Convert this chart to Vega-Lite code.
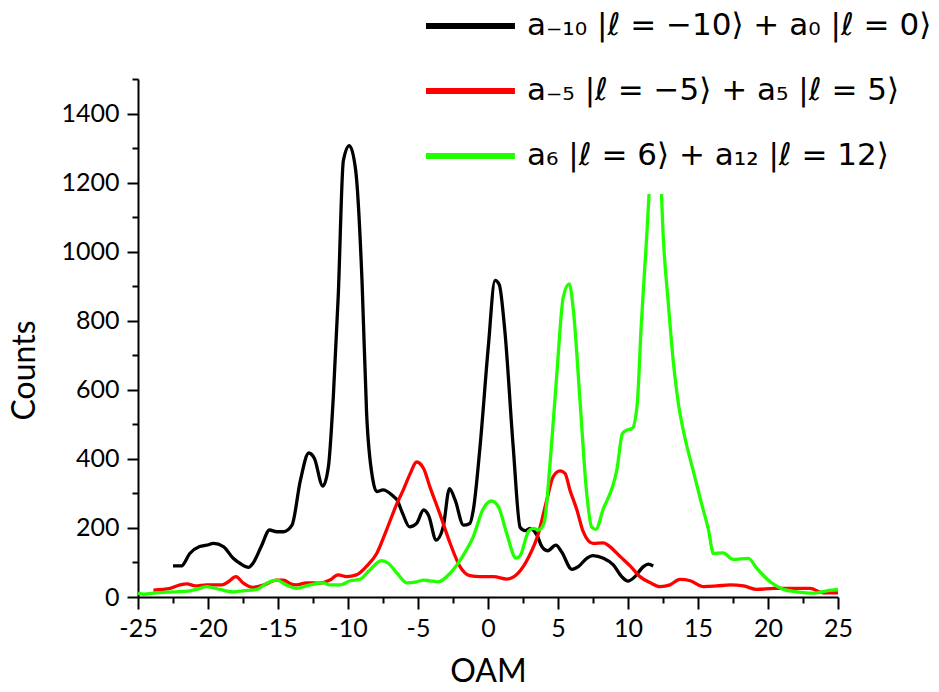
{
  "$schema": "https://vega.github.io/schema/vega-lite/v6.json",
  "autosize": {"type": "none"},
  "padding": {"left": 138, "top": 79, "right": 101, "bottom": 95},
  "width": 700,
  "height": 518,
  "background": "white",
  "config": {"view": {"stroke": null}, "font": "Lato"},
  "data": {"values": [
    {"s": "A", "x": -22.5, "y": 90}, {"s": "A", "x": -21.9, "y": 90}, {"s": "A", "x": -21.3, "y": 126}, {"s": "A", "x": -20.6, "y": 146},
    {"s": "A", "x": -20.1, "y": 150}, {"s": "A", "x": -19.6, "y": 155}, {"s": "A", "x": -18.9, "y": 146}, {"s": "A", "x": -18.2, "y": 112},
    {"s": "A", "x": -17.7, "y": 97}, {"s": "A", "x": -17.1, "y": 86}, {"s": "A", "x": -16.8, "y": 97}, {"s": "A", "x": -16.2, "y": 146},
    {"s": "A", "x": -15.6, "y": 194}, {"s": "A", "x": -15.1, "y": 189}, {"s": "A", "x": -14.6, "y": 189}, {"s": "A", "x": -14.0, "y": 208},
    {"s": "A", "x": -13.4, "y": 338}, {"s": "A", "x": -12.8, "y": 417}, {"s": "A", "x": -12.4, "y": 401}, {"s": "A", "x": -11.8, "y": 321},
    {"s": "A", "x": -11.4, "y": 377}, {"s": "A", "x": -11.05, "y": 579}, {"s": "A", "x": -10.7, "y": 869}, {"s": "A", "x": -10.33, "y": 1264},
    {"s": "A", "x": -9.9, "y": 1307}, {"s": "A", "x": -9.45, "y": 1235}, {"s": "A", "x": -9.0, "y": 917}, {"s": "A", "x": -8.67, "y": 531},
    {"s": "A", "x": -8.24, "y": 343}, {"s": "A", "x": -7.95, "y": 305}, {"s": "A", "x": -7.5, "y": 310}, {"s": "A", "x": -6.8, "y": 293},
    {"s": "A", "x": -6.5, "y": 281}, {"s": "A", "x": -6.1, "y": 242}, {"s": "A", "x": -5.6, "y": 203}, {"s": "A", "x": -5.1, "y": 213},
    {"s": "A", "x": -4.6, "y": 252}, {"s": "A", "x": -4.25, "y": 237}, {"s": "A", "x": -3.7, "y": 165}, {"s": "A", "x": -3.2, "y": 203},
    {"s": "A", "x": -2.75, "y": 314}, {"s": "A", "x": -2.35, "y": 281}, {"s": "A", "x": -1.75, "y": 208}, {"s": "A", "x": -1.3, "y": 213},
    {"s": "A", "x": -1.05, "y": 252}, {"s": "A", "x": -0.57, "y": 435}, {"s": "A", "x": 0.02, "y": 724}, {"s": "A", "x": 0.5, "y": 917},
    {"s": "A", "x": 0.8, "y": 905}, {"s": "A", "x": 1.2, "y": 772}, {"s": "A", "x": 1.8, "y": 435}, {"s": "A", "x": 2.3, "y": 201},
    {"s": "A", "x": 2.65, "y": 192}, {"s": "A", "x": 3.0, "y": 199}, {"s": "A", "x": 3.5, "y": 179}, {"s": "A", "x": 3.85, "y": 146},
    {"s": "A", "x": 4.25, "y": 134}, {"s": "A", "x": 4.85, "y": 150}, {"s": "A", "x": 5.25, "y": 131}, {"s": "A", "x": 6.0, "y": 80},
    {"s": "A", "x": 6.45, "y": 88}, {"s": "A", "x": 7.05, "y": 112}, {"s": "A", "x": 7.5, "y": 120}, {"s": "A", "x": 8.25, "y": 112},
    {"s": "A", "x": 8.95, "y": 93}, {"s": "A", "x": 9.55, "y": 59}, {"s": "A", "x": 10.0, "y": 46}, {"s": "A", "x": 10.5, "y": 59},
    {"s": "A", "x": 11.1, "y": 88}, {"s": "A", "x": 11.45, "y": 95}, {"s": "A", "x": 11.8, "y": 90},

    {"s": "B", "x": -23.9, "y": 20}, {"s": "B", "x": -22.7, "y": 25}, {"s": "B", "x": -22.0, "y": 35}, {"s": "B", "x": -21.5, "y": 38},
    {"s": "B", "x": -20.9, "y": 32}, {"s": "B", "x": -20.1, "y": 35}, {"s": "B", "x": -19.0, "y": 35}, {"s": "B", "x": -18.55, "y": 44},
    {"s": "B", "x": -18.0, "y": 59}, {"s": "B", "x": -17.5, "y": 41}, {"s": "B", "x": -16.8, "y": 28}, {"s": "B", "x": -16.0, "y": 35},
    {"s": "B", "x": -15.1, "y": 49}, {"s": "B", "x": -14.6, "y": 49}, {"s": "B", "x": -14.1, "y": 38}, {"s": "B", "x": -13.7, "y": 35},
    {"s": "B", "x": -12.95, "y": 41}, {"s": "B", "x": -12.0, "y": 40}, {"s": "B", "x": -11.3, "y": 49}, {"s": "B", "x": -10.7, "y": 64},
    {"s": "B", "x": -10.1, "y": 59}, {"s": "B", "x": -9.4, "y": 64}, {"s": "B", "x": -8.7, "y": 88}, {"s": "B", "x": -7.95, "y": 126},
    {"s": "B", "x": -7.25, "y": 194}, {"s": "B", "x": -6.5, "y": 271}, {"s": "B", "x": -6.05, "y": 310}, {"s": "B", "x": -5.55, "y": 358},
    {"s": "B", "x": -5.1, "y": 391}, {"s": "B", "x": -4.6, "y": 372}, {"s": "B", "x": -4.15, "y": 319}, {"s": "B", "x": -3.45, "y": 242},
    {"s": "B", "x": -2.7, "y": 155}, {"s": "B", "x": -2.0, "y": 88}, {"s": "B", "x": -1.3, "y": 62}, {"s": "B", "x": -0.55, "y": 59},
    {"s": "B", "x": 0.4, "y": 59}, {"s": "B", "x": 1.35, "y": 52}, {"s": "B", "x": 2.15, "y": 69}, {"s": "B", "x": 2.9, "y": 115},
    {"s": "B", "x": 3.6, "y": 184}, {"s": "B", "x": 4.2, "y": 281}, {"s": "B", "x": 4.65, "y": 348}, {"s": "B", "x": 5.15, "y": 365},
    {"s": "B", "x": 5.5, "y": 358}, {"s": "B", "x": 5.85, "y": 310}, {"s": "B", "x": 6.35, "y": 252}, {"s": "B", "x": 6.8, "y": 189},
    {"s": "B", "x": 7.5, "y": 155}, {"s": "B", "x": 8.25, "y": 157}, {"s": "B", "x": 8.7, "y": 146}, {"s": "B", "x": 9.45, "y": 117},
    {"s": "B", "x": 10.15, "y": 90}, {"s": "B", "x": 10.85, "y": 59}, {"s": "B", "x": 11.6, "y": 41}, {"s": "B", "x": 12.3, "y": 30},
    {"s": "B", "x": 13.0, "y": 35}, {"s": "B", "x": 13.7, "y": 51}, {"s": "B", "x": 14.45, "y": 47}, {"s": "B", "x": 15.4, "y": 30},
    {"s": "B", "x": 16.35, "y": 32}, {"s": "B", "x": 17.3, "y": 35}, {"s": "B", "x": 18.25, "y": 32}, {"s": "B", "x": 19.2, "y": 22},
    {"s": "B", "x": 20.4, "y": 25}, {"s": "B", "x": 21.6, "y": 25}, {"s": "B", "x": 23.0, "y": 25}, {"s": "B", "x": 23.95, "y": 12},
    {"s": "B", "x": 25.0, "y": 12},

    {"s": "C", "x": -25.0, "y": 11}, {"s": "C", "x": -24.6, "y": 8}, {"s": "C", "x": -23.7, "y": 12}, {"s": "C", "x": -22.5, "y": 15},
    {"s": "C", "x": -21.3, "y": 18}, {"s": "C", "x": -20.8, "y": 22}, {"s": "C", "x": -20.1, "y": 30}, {"s": "C", "x": -19.15, "y": 22},
    {"s": "C", "x": -18.2, "y": 15}, {"s": "C", "x": -17.5, "y": 18}, {"s": "C", "x": -16.5, "y": 22}, {"s": "C", "x": -15.8, "y": 40},
    {"s": "C", "x": -15.1, "y": 49}, {"s": "C", "x": -14.4, "y": 35}, {"s": "C", "x": -13.7, "y": 25}, {"s": "C", "x": -12.7, "y": 35},
    {"s": "C", "x": -11.75, "y": 41}, {"s": "C", "x": -11.3, "y": 35}, {"s": "C", "x": -10.55, "y": 35}, {"s": "C", "x": -9.85, "y": 47},
    {"s": "C", "x": -9.15, "y": 51}, {"s": "C", "x": -8.45, "y": 78}, {"s": "C", "x": -7.6, "y": 105}, {"s": "C", "x": -7.1, "y": 97},
    {"s": "C", "x": -6.5, "y": 69}, {"s": "C", "x": -5.8, "y": 41}, {"s": "C", "x": -5.1, "y": 44}, {"s": "C", "x": -4.6, "y": 49},
    {"s": "C", "x": -4.15, "y": 47}, {"s": "C", "x": -3.55, "y": 44}, {"s": "C", "x": -2.7, "y": 69}, {"s": "C", "x": -1.75, "y": 122},
    {"s": "C", "x": -1.05, "y": 175}, {"s": "C", "x": -0.35, "y": 255}, {"s": "C", "x": 0.26, "y": 278}, {"s": "C", "x": 0.75, "y": 261},
    {"s": "C", "x": 1.33, "y": 185}, {"s": "C", "x": 2.0, "y": 113}, {"s": "C", "x": 2.3, "y": 120}, {"s": "C", "x": 2.9, "y": 191},
    {"s": "C", "x": 3.25, "y": 199}, {"s": "C", "x": 3.6, "y": 194}, {"s": "C", "x": 4.0, "y": 213}, {"s": "C", "x": 4.45, "y": 396},
    {"s": "C", "x": 4.9, "y": 637}, {"s": "C", "x": 5.38, "y": 869}, {"s": "C", "x": 5.8, "y": 907}, {"s": "C", "x": 6.1, "y": 830},
    {"s": "C", "x": 6.57, "y": 570}, {"s": "C", "x": 7.05, "y": 300}, {"s": "C", "x": 7.4, "y": 203}, {"s": "C", "x": 7.7, "y": 196},
    {"s": "C", "x": 8.25, "y": 257}, {"s": "C", "x": 8.85, "y": 314}, {"s": "C", "x": 9.2, "y": 367}, {"s": "C", "x": 9.6, "y": 473},
    {"s": "C", "x": 9.9, "y": 483}, {"s": "C", "x": 10.3, "y": 488}, {"s": "C", "x": 10.65, "y": 555}, {"s": "C", "x": 10.95, "y": 790},
    {"s": "C", "x": 11.33, "y": 1040}, {"s": "C", "x": 11.7, "y": 1290}, {"s": "C", "x": 12.0, "y": 1360}, {"s": "C", "x": 12.3, "y": 1250},
    {"s": "C", "x": 12.52, "y": 1042}, {"s": "C", "x": 12.88, "y": 850}, {"s": "C", "x": 13.25, "y": 676}, {"s": "C", "x": 13.6, "y": 560},
    {"s": "C", "x": 14.05, "y": 464}, {"s": "C", "x": 14.65, "y": 367}, {"s": "C", "x": 15.25, "y": 271}, {"s": "C", "x": 15.75, "y": 194},
    {"s": "C", "x": 16.1, "y": 126}, {"s": "C", "x": 16.8, "y": 128}, {"s": "C", "x": 17.5, "y": 109}, {"s": "C", "x": 18.6, "y": 112},
    {"s": "C", "x": 19.2, "y": 83}, {"s": "C", "x": 20.15, "y": 44}, {"s": "C", "x": 21.1, "y": 22}, {"s": "C", "x": 22.05, "y": 15},
    {"s": "C", "x": 23.25, "y": 11}, {"s": "C", "x": 24.2, "y": 18}, {"s": "C", "x": 25.0, "y": 22}
  ]},
  "transform": [
    {"lookup": "s", "from": {"data": {"values": [
      {"s": "A", "label": "a₋₁₀ |ℓ = −10⟩ + a₀ |ℓ = 0⟩"},
      {"s": "B", "label": "a₋₅ |ℓ = −5⟩ + a₅ |ℓ = 5⟩"},
      {"s": "C", "label": "a₆ |ℓ = 6⟩ + a₁₂ |ℓ = 12⟩"}
    ]}, "key": "s", "fields": ["label"]}}
  ],
  "mark": {"type": "line", "strokeWidth": 3.3, "interpolate": "monotone"},
  "encoding": {
    "x": {
      "field": "x", "type": "quantitative",
      "scale": {"domain": [-25, 25], "nice": false, "zero": false},
      "axis": {
        "title": "OAM",
        "values": [-25, -22.5, -20, -17.5, -15, -12.5, -10, -7.5, -5, -2.5, 0, 2.5, 5, 7.5, 10, 12.5, 15, 17.5, 20, 22.5, 25],
        "labelExpr": "datum.value % 5 === 0 ? toString(datum.value) : ''",
        "tickSize": {"condition": {"test": "datum.value % 5 === 0", "value": 12}, "value": 6},
        "labelPadding": 7,
        "labelFont": "Lato", "labelFontSize": 25, "labelColor": "black",
        "labelFlush": false, "labelOverlap": false,
        "domainColor": "black", "domainWidth": 2, "tickColor": "black", "tickWidth": 2,
        "grid": false,
        "titleFont": "Lato", "titleFontSize": 32, "titleFontWeight": "normal", "titleColor": "black",
        "titleBaseline": "middle", "titleY": 74
      }
    },
    "y": {
      "field": "y", "type": "quantitative",
      "scale": {"domain": [0, 1500], "nice": false},
      "axis": {
        "title": "Counts",
        "values": [0, 100, 200, 300, 400, 500, 600, 700, 800, 900, 1000, 1100, 1200, 1300, 1400, 1500],
        "labelExpr": "datum.value % 200 === 0 ? toString(datum.value) : ''",
        "tickSize": {"condition": {"test": "datum.value % 200 === 0", "value": 11}, "value": 6},
        "labelPadding": 8,
        "labelFont": "Lato", "labelFontSize": 25, "labelColor": "black",
        "labelFlush": false, "labelOverlap": false,
        "domainColor": "black", "domainWidth": 2, "tickColor": "black", "tickWidth": 2,
        "grid": false,
        "titleFont": "Lato", "titleFontSize": 32, "titleFontWeight": "normal", "titleColor": "black",
        "titleBaseline": "middle", "titleAlign": "center", "titleX": -114, "titleY": 291
      }
    },
    "color": {
      "field": "label", "type": "nominal",
      "scale": {
        "domain": ["a₋₁₀ |ℓ = −10⟩ + a₀ |ℓ = 0⟩", "a₋₅ |ℓ = −5⟩ + a₅ |ℓ = 5⟩", "a₆ |ℓ = 6⟩ + a₁₂ |ℓ = 12⟩"],
        "range": ["#000000", "#ff0000", "#22ff00"]
      },
      "legend": {
        "title": null,
        "orient": "none", "legendX": 262, "legendY": -94,
        "padding": 23, "fillColor": "white", "strokeColor": null,
        "symbolType": "M-1,0H4.93", "symbolSize": 900, "symbolStrokeWidth": 6,
        "rowPadding": 32, "labelOffset": 68,
        "labelFont": "DejaVu Sans", "labelFontSize": 31, "labelColor": "black", "labelLimit": 0
      }
    }
  }
}
